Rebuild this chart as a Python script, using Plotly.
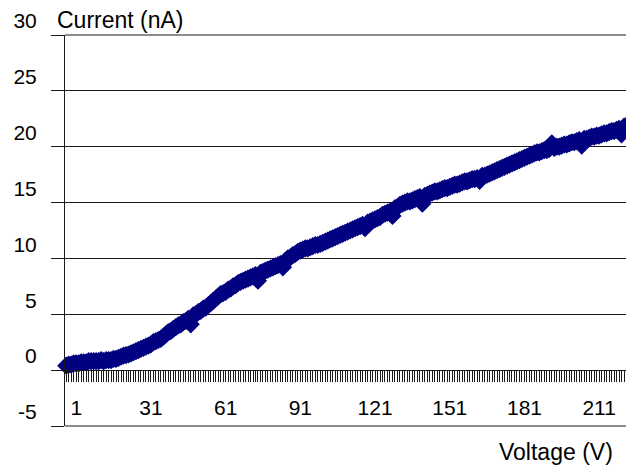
import plotly.graph_objects as go

# Current (nA) per voltage step
current = [
    0.4, 0.5, 0.5, 0.6, 0.6, 0.6, 0.7, 0.7, 0.7, 0.8, 0.8, 0.8, 0.8, 0.8, 0.9, 0.8, 0.9, 0.9, 0.9, 1.0,
    1.0, 1.1, 1.2, 1.3, 1.35, 1.4, 1.5, 1.6, 1.7, 1.8,
    1.9, 2.0, 2.1, 2.2, 2.3, 2.5, 2.6, 2.7, 2.8,
    3.0, 3.2, 3.4, 3.5, 3.7, 3.85,
    4.0, 4.1, 4.3, 4.4, 4.6, 4.1,
    4.9, 5.0, 5.2, 5.3, 5.5, 5.6,
    5.8, 6.0, 6.2, 6.4, 6.6, 6.8,
    6.9, 7.0, 7.2, 7.3, 7.5, 7.6, 7.8, 7.9,
    8.0, 8.1, 8.2, 8.3, 8.4, 8.5, 8.0, 8.7,
    8.8, 8.9, 9.0, 9.1, 9.2, 9.3, 9.4, 9.5,
    9.2, 9.8, 10.0, 10.1, 10.3, 10.4, 10.6, 10.7,
    10.8, 10.9, 10.9, 11.0, 11.1, 11.2, 11.2, 11.3,
    11.4, 11.5, 11.6, 11.7, 11.8, 11.9, 12.0, 12.1, 12.2, 12.3,
    12.4, 12.5, 12.6, 12.7, 12.8, 12.9, 13.0, 12.7, 13.2, 13.3,
    13.4, 13.5, 13.6, 13.7, 13.9, 14.0, 14.1, 14.2, 13.8, 14.5, 14.6, 14.8,
    14.9, 15.0, 15.1, 15.1, 15.2, 15.3, 15.4, 15.5, 14.9, 15.6, 15.7, 15.8,
    15.9, 16.0, 16.0, 16.1, 16.2, 16.3, 16.3, 16.4, 16.5, 16.6, 16.6, 16.7,
    16.8, 16.9, 16.9, 17.0, 17.1, 17.1, 17.2, 16.95, 17.4, 17.4, 17.5, 17.6,
    17.7, 17.8, 17.9, 18.0, 18.1, 18.2, 18.3, 18.4,
    18.5, 18.6, 18.7, 18.8, 18.9, 19.0, 19.1, 19.2, 19.3, 19.4, 19.5, 19.5,
    19.6, 19.7, 19.7, 19.8, 20.3, 19.9, 20.0, 20.0, 20.1, 20.2, 20.2, 20.3,
    20.4, 20.4, 20.5, 20.6, 20.1, 20.7, 20.7, 20.8, 20.9, 20.9, 21.0, 21.0,
    21.1, 21.2, 21.2, 21.3, 21.4, 21.4, 21.5, 21.6, 21.1, 21.8, 21.9,
]
steps = list(range(1, len(current) + 1))
x_labels = [str(s) if (s - 1) % 30 == 0 else "" for s in steps]
y_ticks = [-5, 0, 5, 10, 15, 20, 25, 30]
y_labels = ["-5", "0", "5", "10", "15", "20", "25", "30"]

FONT = "Liberation Sans, Arial, sans-serif"
INK = "#1a1a1a"

# the page body has an 8px margin; the figure is sized to fill the rest
fig = go.Figure(
    go.Scatter(
        x=steps, y=current, mode="markers",
        marker=dict(symbol="diamond", size=14, color="#000080", line=dict(width=0)),
        showlegend=False, cliponaxis=False,
    )
)

# gridlines along the top and bottom edges of the plot area (range ends)
edge_lines = [
    dict(type="line", xref="paper", yref="paper", x0=0, x1=1, y0=v, y1=v,
         line=dict(color=INK, width=1), layer="below")
    for v in (0, 1)
]

fig.update_layout(
    width=626, height=458,
    margin=dict(l=57, r=0, t=27, b=40),
    paper_bgcolor="white", plot_bgcolor="white",
    font=dict(family=FONT, size=21, color="black"),
    xaxis=dict(
        range=[0.5, 229.0],
        anchor="free", position=5 / 35,
        tickmode="array", tickvals=steps, ticktext=x_labels,
        ticks="outside", ticklen=11, tickwidth=1, tickcolor=INK,
        showline=True, linecolor=INK, linewidth=1,
        showgrid=False, zeroline=False,
        ticklabelshift=10, ticklabelstandoff=8,
        tickangle=0,
    ),
    yaxis=dict(
        range=[-5, 30],
        tickmode="array", tickvals=y_ticks, ticktext=y_labels,
        ticks="outside", ticklen=13, tickwidth=1, tickcolor=INK,
        showline=True, linecolor=INK, linewidth=1,
        showgrid=True, gridcolor=INK, gridwidth=1,
        zeroline=False,
        ticklabelshift=-14, ticklabelstandoff=10,
    ),
    shapes=edge_lines,
    annotations=[
        dict(text="Current (nA)", xref="paper", yref="paper",
             x=(55 - 65) / 569, y=(426 - 20) / 391,
             xanchor="left", yanchor="middle", showarrow=False,
             font=dict(family=FONT, size=23, color="black")),
        dict(text="Voltage (V)", xref="paper", yref="paper",
             x=(615 - 65) / 569, y=(426 - 452) / 391,
             xanchor="right", yanchor="middle", showarrow=False,
             font=dict(family=FONT, size=23, color="black")),
    ],
)

fig.write_html("out.html")
